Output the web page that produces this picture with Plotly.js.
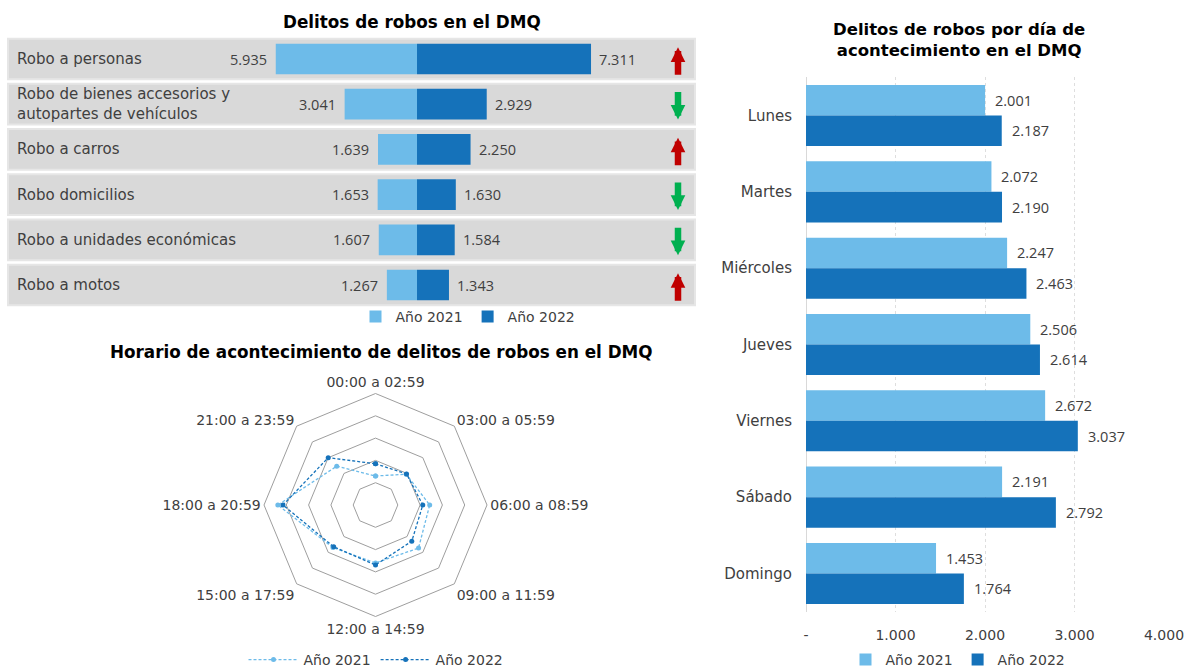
<!DOCTYPE html>
<html>
<head>
<meta charset="utf-8">
<script src="https://cdn.plot.ly/plotly-3.0.1.min.js"></script>
<style>
  html, body { margin: 0; padding: 0; background: #ffffff; }
  #chart { width: 1187px; height: 671px; }
</style>
</head>
<body>
<div id="chart"></div>
<script>
// ---------- DATA ----------
const catRobo = ['Robo a personas', 'Robo de bienes accesorios y<br>autopartes de vehículos', 'Robo a carros', 'Robo domicilios', 'Robo a unidades económicas', 'Robo a motos'];
const robo2021 = [5935, 3041, 1639, 1653, 1607, 1267];
const robo2022 = [7311, 2929, 2250, 1630, 1584, 1343];

const dias = ['Lunes', 'Martes', 'Miércoles', 'Jueves', 'Viernes', 'Sábado', 'Domingo'];
const dia2021 = [2001, 2072, 2247, 2506, 2672, 2191, 1453];
const dia2022 = [2187, 2190, 2463, 2614, 3037, 2792, 1764];

const horarios = ['00:00 a 02:59', '03:00 a 05:59', '06:00 a 08:59', '09:00 a 11:59', '12:00 a 14:59', '15:00 a 17:59', '18:00 a 20:59', '21:00 a 23:59'];
const hora2021 = [650, 975, 1215, 1365, 1300, 1350, 2190, 1230];
const hora2022 = [925, 985, 1060, 1150, 1345, 1325, 2075, 1500];

const dayTicks = [0, 1000, 2000, 3000, 4000];
const dayTickText = ['-', '1.000', '2.000', '3.000', '4.000'];

// ---------- STYLE ----------
const W = 1187, H = 671;
const LIGHT = '#6dbbe9';
const DARK = '#1572ba';
const TXT = '#404040';
const FONT = 'Open Sans, Lato, sans-serif';
const LFONT = 'DejaVu Sans, Open Sans, sans-serif';
const TFONT = 'DejaVu Sans, Open Sans, sans-serif';
const fmt = v => String(v).replace(/\B(?=(\d{3})+(?!\d))/g, '.');
const px = x => x / W;
const py = y => 1 - y / H;

const traces = [];
const annotations = [];
const shapes = [];

// ---------- CHART 1: butterfly ----------
traces.push({
  type: 'bar', orientation: 'h', name: 'Año 2021', legend: 'legend',
  y: catRobo, x: robo2021.map(v => -v), xaxis: 'x', yaxis: 'y',
  marker: { color: LIGHT }, width: 0.68, offset: -0.34, hoverinfo: 'skip'
});
traces.push({
  type: 'bar', orientation: 'h', name: 'Año 2022', legend: 'legend',
  y: catRobo, x: robo2022, xaxis: 'x', yaxis: 'y',
  marker: { color: DARK }, width: 0.68, offset: -0.34, hoverinfo: 'skip'
});

catRobo.forEach((c, i) => {
  shapes.push({
    type: 'rect', xref: 'x domain', yref: 'y', x0: 0, x1: 1, y0: i - 0.45, y1: i + 0.45,
    fillcolor: '#d9d9d9', line: { color: '#e6e6e6', width: 2 }, layer: 'below'
  });
  annotations.push({
    xref: 'paper', yref: 'y', x: px(15), y: i, text: c, showarrow: false,
    xanchor: 'left', yanchor: 'middle', align: 'left',
    font: { family: LFONT, size: 15, color: TXT }
  });
  annotations.push({
    xref: 'x', yref: 'y', x: -robo2021[i], y: i, text: fmt(robo2021[i]), showarrow: false,
    xanchor: 'right', yanchor: 'middle', xshift: -7,
    font: { family: FONT, size: 14.5, color: TXT }
  });
  annotations.push({
    xref: 'x', yref: 'y', x: robo2022[i], y: i, text: fmt(robo2022[i]), showarrow: false,
    xanchor: 'left', yanchor: 'middle', xshift: 6,
    font: { family: FONT, size: 14.5, color: TXT }
  });
  const up = robo2022[i] > robo2021[i];
  annotations.push({
    xref: 'paper', yref: 'y', x: px(678), y: up ? i - 0.26 : i + 0.34,
    ax: 0, ay: up ? 29 : -29, text: '', showarrow: true,
    arrowhead: 2, arrowsize: 0.45, arrowwidth: 6.5,
    arrowcolor: up ? '#c00000' : '#00b050', standoff: 0
  });
});

annotations.push({
  xref: 'paper', yref: 'paper', x: px(412), y: py(22), text: '<b>Delitos de robos en el DMQ</b>',
  showarrow: false, xanchor: 'center', yanchor: 'middle',
  font: { family: TFONT, size: 16.8, color: '#000000' }
});

// ---------- CHART 2: by day ----------
traces.push({
  type: 'bar', orientation: 'h', name: 'Año 2021', legend: 'legend2',
  y: dias, x: dia2021, xaxis: 'x2', yaxis: 'y2',
  marker: { color: LIGHT }, width: 0.4, offset: -0.4, hoverinfo: 'skip'
});
traces.push({
  type: 'bar', orientation: 'h', name: 'Año 2022', legend: 'legend2',
  y: dias, x: dia2022, xaxis: 'x2', yaxis: 'y2',
  marker: { color: DARK }, width: 0.4, offset: 0, hoverinfo: 'skip'
});
dias.forEach((d, i) => {
  annotations.push({
    xref: 'x2', yref: 'y2', x: dia2021[i], y: i - 0.2, text: fmt(dia2021[i]), showarrow: false,
    xanchor: 'left', yanchor: 'middle', xshift: 8,
    font: { family: FONT, size: 14.5, color: TXT }
  });
  annotations.push({
    xref: 'x2', yref: 'y2', x: dia2022[i], y: i + 0.2, text: fmt(dia2022[i]), showarrow: false,
    xanchor: 'left', yanchor: 'middle', xshift: 8,
    font: { family: FONT, size: 14.5, color: TXT }
  });
});
annotations.push({
  xref: 'paper', yref: 'paper', x: px(959), y: py(40),
  text: '<b>Delitos de robos por día de<br>acontecimiento en el DMQ</b>',
  showarrow: false, xanchor: 'center', yanchor: 'middle',
  font: { family: TFONT, size: 16.5, color: '#000000' }
});

// ---------- CHART 3: radar ----------
const closeLoop = a => a.concat([a[0]]);
traces.push({
  type: 'scatterpolar', subplot: 'polar', name: 'Año 2021', legend: 'legend3',
  r: closeLoop(hora2021), theta: closeLoop(horarios), mode: 'lines+markers',
  line: { color: LIGHT, width: 1.3, dash: '3px,2px' }, marker: { color: LIGHT, size: 5 },
  hoverinfo: 'skip'
});
traces.push({
  type: 'scatterpolar', subplot: 'polar', name: 'Año 2022', legend: 'legend3',
  r: closeLoop(hora2022), theta: closeLoop(horarios), mode: 'lines+markers',
  line: { color: DARK, width: 1.3, dash: '3px,2px' }, marker: { color: DARK, size: 5 },
  hoverinfo: 'skip'
});
annotations.push({
  xref: 'paper', yref: 'paper', x: px(381), y: py(352),
  text: '<b>Horario de acontecimiento de delitos de robos en el DMQ</b>',
  showarrow: false, xanchor: 'center', yanchor: 'middle',
  font: { family: TFONT, size: 16.8, color: '#000000' }
});

// ---------- LAYOUT ----------
const legendBase = {
  orientation: 'h', xanchor: 'center', yanchor: 'middle',
  font: { family: LFONT, size: 14, color: TXT }, bgcolor: 'rgba(0,0,0,0)',
  itemwidth: 30, tracegroupgap: 0
};

const layout = {
  width: W, height: H, autosize: false,
  margin: { l: 0, r: 0, t: 0, b: 0, pad: 0, autoexpand: false },
  paper_bgcolor: '#ffffff', plot_bgcolor: 'rgba(0,0,0,0)',
  font: { family: FONT, size: 14, color: TXT },
  barmode: 'overlay',
  showlegend: true,
  xaxis: {
    domain: [px(8), px(695)], range: [-17185, 11680], visible: false, fixedrange: true
  },
  yaxis: {
    domain: [py(307.6), py(36.4)], type: 'category', range: [5.5, -0.5],
    visible: false, fixedrange: true
  },
  xaxis2: {
    domain: [px(806), px(1164)], range: [0, 4000], anchor: 'y2',
    tickvals: dayTicks, ticktext: dayTickText,
    showgrid: true, gridcolor: '#dedede', griddash: '3px,3px', gridwidth: 1,
    zeroline: true, zerolinecolor: '#d9d9d9', zerolinewidth: 1,
    showline: false, ticks: '', ticklabelstandoff: 13,
    tickfont: { family: LFONT, size: 14, color: TXT }, fixedrange: true
  },
  yaxis2: {
    domain: [py(611.6), py(77.4)], anchor: 'x2', type: 'category',
    range: [6.5, -0.5], showgrid: false, zeroline: false, showline: false,
    ticks: '', ticklabelstandoff: 13,
    tickfont: { family: LFONT, size: 15, color: TXT }, fixedrange: true
  },
  polar: {
    domain: { x: [px(264), px(487)], y: [py(616.5), py(393.5)] },
    gridshape: 'linear', bgcolor: 'rgba(0,0,0,0)',
    radialaxis: {
      range: [0, 2500], dtick: 500, showticklabels: false, ticks: '',
      showline: false, gridcolor: '#9e9e9e', gridwidth: 1
    },
    angularaxis: {
      rotation: 90, direction: 'clockwise', showgrid: false,
      linecolor: '#9e9e9e', linewidth: 1, ticks: '',
      tickfont: { family: LFONT, size: 14, color: TXT }
    }
  },
  legend: Object.assign({}, legendBase, { x: px(468), y: py(317) }),
  legend2: Object.assign({}, legendBase, { x: px(958), y: py(660) }),
  legend3: Object.assign({}, legendBase, { x: px(376), y: py(660), itemwidth: 50 }),
  shapes: shapes,
  annotations: annotations
};

Plotly.newPlot('chart', traces, layout, { staticPlot: true, displayModeBar: false });
</script>
</body>
</html>
